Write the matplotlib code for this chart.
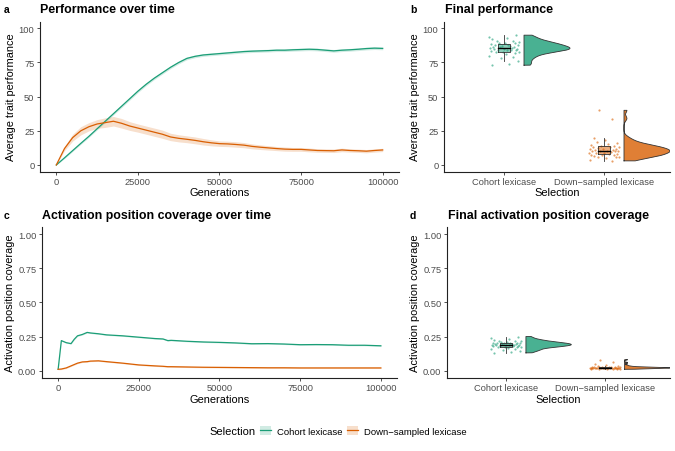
import numpy as np
import matplotlib.pyplot as plt
from matplotlib.patches import Patch
from matplotlib.lines import Line2D

plt.rcParams['font.family'] = ['Liberation Sans', 'DejaVu Sans']

W, H = 675, 452

green = '#1B9E77'
orange = '#D95F02'
groups = ['Cohort lexicase', 'Down\u2212sampled lexicase']

# panel a: performance over time
gens_a = [0, 2500, 5000, 7500, 10000, 12500, 15000, 17500, 20000, 22500, 25000,
          27500, 30000, 32500, 35000, 37500, 40000, 42500, 45000, 47500, 50000,
          52500, 55000, 57500, 60000, 62500, 65000, 67500, 70000, 72500, 75000,
          77500, 80000, 82500, 85000, 87500, 90000, 92500, 95000, 97500, 100000]
perf_cohort = [0, 5.2, 10.5, 15.8, 21, 26.5, 32, 37.5, 43, 48.5, 54,
               59, 63.5, 67.5, 71.5, 75, 78, 79.5, 80.5, 81, 81.5,
               82, 82.5, 83, 83.3, 83.5, 83.7, 84, 84, 84.3, 84.5,
               84.7, 84.5, 84, 83.5, 84, 84.3, 84.7, 85.2, 85.5, 85.3]
perf_cohort_se = [0, 0.5, 0.6, 0.7, 0.8, 0.8, 0.9, 0.9, 1, 1, 1,
                  1, 1, 1, 1, 1, 1, 1, 1, 1, 1,
                  1, 1, 1, 1, 1, 1, 1, 1, 1, 1,
                  1, 1, 1, 1, 1, 1, 1, 1, 1, 1]
perf_down = [0, 12, 20, 25, 28, 30, 31, 32, 30.5, 28.5, 27,
             25.5, 24, 22.5, 20.5, 19.5, 18.8, 18, 17, 16.2, 15.6,
             15.4, 15, 14.5, 13.6, 13, 12.5, 12, 11.6, 11.4, 11.4,
             11, 10.6, 10.5, 10.4, 11, 10.6, 10.4, 10.1, 10.6, 11]
perf_down_se = [0, 1.5, 2.5, 3, 3, 3.2, 3.5, 3.5, 3.5, 3.2, 3,
                3, 3, 3, 2.7, 2.6, 2.5, 2.5, 2.4, 2.2, 2,
                2, 2, 1.9, 1.8, 1.7, 1.6, 1.5, 1.5, 1.4, 1.4,
                1.4, 1.3, 1.3, 1.3, 1.3, 1.2, 1.2, 1.2, 1.2, 1.2]

# panel c: coverage over time
gens_c = [0, 1000, 2500, 4000, 5000, 6000, 7500, 9000, 10000, 12500, 15000,
          20000, 25000, 30000, 32500, 34000, 35000, 40000, 45000, 50000, 55000,
          60000, 65000, 70000, 75000, 80000, 85000, 90000, 95000, 100000]
cov_cohort = [0.01, 0.22, 0.205, 0.198, 0.23, 0.255, 0.265, 0.28, 0.276, 0.27, 0.262,
              0.255, 0.245, 0.235, 0.232, 0.22, 0.222, 0.215, 0.21, 0.207, 0.203,
              0.197, 0.198, 0.195, 0.19, 0.191, 0.19, 0.186, 0.186, 0.182]
cov_down = [0.01, 0.012, 0.02, 0.035, 0.045, 0.055, 0.064, 0.066, 0.07, 0.072, 0.066,
            0.055, 0.042, 0.035, 0.032, 0.029, 0.029, 0.027, 0.025, 0.024, 0.023,
            0.022, 0.021, 0.021, 0.02, 0.02, 0.02, 0.02, 0.02, 0.02]

# final values (one per replicate)
final_perf_cohort = [73, 74, 76, 78, 79, 80, 81, 82, 82.5, 83, 83, 83.5, 84, 84,
                     84.5, 84.5, 85, 85, 85, 85.5, 85.5, 86, 86, 86.5, 87, 87,
                     87.5, 88, 88, 88.5, 89, 89, 89.5, 90, 90.5, 91, 92, 93, 94, 95]
final_perf_down = [3, 4, 5, 5.5, 6, 6, 6.5, 7, 7, 7.5, 8, 8, 8.5, 9, 9, 9.5, 10,
                   10, 10, 10.5, 10.5, 11, 11, 11.5, 12, 12, 12.5, 13, 13, 13.5,
                   14, 14, 14.5, 15, 16, 17, 18, 20, 34, 40]
final_cov_cohort = [0.13, 0.14, 0.145, 0.15, 0.155, 0.16, 0.165, 0.17, 0.17, 0.175,
                    0.175, 0.178, 0.18, 0.18, 0.182, 0.185, 0.185, 0.187, 0.188, 0.19,
                    0.19, 0.192, 0.195, 0.195, 0.197, 0.2, 0.2, 0.2, 0.203, 0.205,
                    0.205, 0.21, 0.21, 0.215, 0.22, 0.22, 0.225, 0.23, 0.24, 0.25]
final_cov_down = [0.01, 0.012, 0.013, 0.014, 0.015, 0.015, 0.016, 0.016, 0.017, 0.017,
                  0.018, 0.018, 0.018, 0.019, 0.019, 0.02, 0.02, 0.02, 0.02, 0.021,
                  0.021, 0.022, 0.022, 0.022, 0.023, 0.023, 0.024, 0.024, 0.025, 0.025,
                  0.026, 0.027, 0.028, 0.03, 0.032, 0.035, 0.04, 0.05, 0.06, 0.08]
jitter_a = [-0.12, 0.05, 0.14, -0.03, 0.09, -0.15, 0.02, 0.11, -0.08, 0.15,
            -0.01, -0.13, 0.07, 0.12, -0.06, 0.03, -0.1, 0.13, 0.0, -0.14,
            0.08, -0.04, 0.1, -0.11, 0.06, -0.02, 0.14, -0.09, 0.04, -0.13,
            0.11, -0.05, 0.01, 0.15, -0.07, 0.09, -0.12, 0.03, -0.15, 0.12]
jitter_b = [0.08, -0.14, 0.02, 0.12, -0.06, 0.15, -0.1, -0.02, 0.1, -0.13,
            0.05, 0.13, -0.08, 0.0, -0.15, 0.07, 0.11, -0.04, -0.12, 0.14,
            0.03, -0.09, 0.09, -0.01, -0.14, 0.12, -0.06, 0.06, 0.15, -0.11,
            -0.03, 0.1, -0.13, 0.04, 0.13, -0.07, 0.01, -0.1, 0.08, -0.05]

TICK = 6.7
LAB = 7.9
TITLE = 8.9

fig = plt.figure(figsize=(W / 100, H / 100), dpi=100)


def make_ax(l, r, top, bot):
    return fig.add_axes([l / W, 1 - bot / H, (r - l) / W, (bot - top) / H])


def style(ax):
    for s in ['top', 'right']:
        ax.spines[s].set_visible(False)
    for s in ['left', 'bottom']:
        ax.spines[s].set_linewidth(0.8)
        ax.spines[s].set_color('#222222')
    ax.tick_params(length=2.5, width=0.6, labelsize=TICK, color='#333333',
                   labelcolor='#4D4D4D', pad=1.5)


def head(tag, title, x_title, x_tag, y):
    fig.text(x_title / W, 1 - y / H, title, fontsize=TITLE, fontweight='bold',
             va='center', ha='left')
    fig.text(x_tag / W, 1 - y / H, tag, fontsize=7.5, fontweight='bold',
             va='center', ha='left')


def kde(vals, grid):
    v = np.asarray(vals)
    n = len(v)
    iqr = np.subtract(*np.percentile(v, [75, 25]))
    bw = 0.9 * min(v.std(ddof=1), iqr / 1.34) * n ** -0.2
    d = np.exp(-0.5 * ((grid[:, None] - v[None, :]) / bw) ** 2).sum(axis=1)
    return d / d.max()


def raincloud(ax, pos, vals, jit, col):
    vals = np.asarray(vals)
    ax.scatter(pos + np.asarray(jit), vals, s=2.5, color=col, alpha=0.6,
               linewidths=0, zorder=3)
    q1, med, q3 = np.percentile(vals, [25, 50, 75])
    iqr = q3 - q1
    lo = vals[vals >= q1 - 1.5 * iqr].min()
    hi = vals[vals <= q3 + 1.5 * iqr].max()
    ax.plot([pos, pos], [lo, q1], color='#333333', lw=0.6, zorder=4)
    ax.plot([pos, pos], [q3, hi], color='#333333', lw=0.6, zorder=4)
    bw = 0.06
    ax.fill_between([pos - bw, pos + bw], q1, q3, facecolor=col, alpha=0.5,
                    zorder=4, linewidth=0)
    ax.plot([pos - bw, pos + bw, pos + bw, pos - bw, pos - bw],
            [q1, q1, q3, q3, q1], color='#333333', lw=0.6, zorder=5)
    ax.plot([pos - bw, pos + bw], [med, med], color='black', lw=1.0, zorder=5)
    grid = np.linspace(vals.min(), vals.max(), 300)
    w = kde(vals, grid) * 0.46
    x0 = pos + 0.2
    ax.fill_betweenx(grid, x0, x0 + w, facecolor=col, alpha=0.8, edgecolor='none',
                     zorder=2)
    ax.plot(np.r_[x0, x0 + w, x0, x0], np.r_[grid[0], grid, grid[-1], grid[0]],
            color='#333333', lw=0.6, zorder=3)


# ---- panel a
ax = make_ax(40, 399, 22.5, 172.8)
style(ax)
ga = np.array(gens_a)
for y, se, col in [(perf_cohort, perf_cohort_se, green), (perf_down, perf_down_se, orange)]:
    y = np.array(y)
    se = np.array(se)
    ax.fill_between(ga, y - se, y + se, color=col, alpha=0.2, linewidth=0)
    ax.plot(ga, y, color=col, lw=0.9)
ax.set_xlim(-5000, 105000)
ax.set_ylim(-5, 105)
ax.set_xticks([0, 25000, 50000, 75000, 100000])
ax.set_yticks([0, 25, 50, 75, 100])
ax.set_xlabel('Generations', fontsize=LAB)
ax.set_ylabel('Average trait performance', fontsize=LAB)
ax.xaxis.set_label_coords(0.5, -0.1)
ax.yaxis.set_label_coords(-0.068, 0.5)
head('a', 'Performance over time', 40, 4, 10)

# ---- panel b
ax = make_ax(444, 670, 22.5, 172.8)
style(ax)
raincloud(ax, 1, final_perf_cohort, jitter_a, green)
raincloud(ax, 2, final_perf_down, jitter_b, orange)
ax.set_xlim(0.4, 2.66)
ax.set_ylim(-5, 105)
ax.set_xticks([1, 2])
ax.set_xticklabels(groups)
ax.set_yticks([0, 25, 50, 75, 100])
ax.set_xlabel('Selection', fontsize=LAB)
ax.set_ylabel('Average trait performance', fontsize=LAB)
ax.xaxis.set_label_coords(0.5, -0.1)
ax.yaxis.set_label_coords(-0.108, 0.5)
head('b', 'Final performance', 445, 410, 10)

# ---- panel c
ax = make_ax(42, 397, 228.2, 378.5)
style(ax)
gc = np.array(gens_c)
for y, col in [(cov_cohort, green), (cov_down, orange)]:
    y = np.array(y)
    ax.fill_between(gc, y - 0.004, y + 0.004, color=col, alpha=0.2, linewidth=0)
    ax.plot(gc, y, color=col, lw=0.9)
ax.set_xlim(-5000, 105000)
ax.set_ylim(-0.05, 1.05)
ax.set_xticks([0, 25000, 50000, 75000, 100000])
ax.set_yticks([0, 0.25, 0.5, 0.75, 1.0])
ax.set_yticklabels(['0.00', '0.25', '0.50', '0.75', '1.00'])
ax.set_xlabel('Generations', fontsize=LAB)
ax.set_ylabel('Activation position coverage', fontsize=LAB)
ax.xaxis.set_label_coords(0.5, -0.11)
ax.yaxis.set_label_coords(-0.077, 0.5)
head('c', 'Activation position coverage over time', 42, 4, 216)

# ---- panel d
ax = make_ax(447, 670, 228.2, 378.5)
style(ax)
raincloud(ax, 1, final_cov_cohort, jitter_a, green)
raincloud(ax, 2, final_cov_down, jitter_b, orange)
ax.set_xlim(0.4, 2.66)
ax.set_ylim(-0.05, 1.05)
ax.set_xticks([1, 2])
ax.set_xticklabels(groups)
ax.set_yticks([0, 0.25, 0.5, 0.75, 1.0])
ax.set_yticklabels(['0.00', '0.25', '0.50', '0.75', '1.00'])
ax.set_xlabel('Selection', fontsize=LAB)
ax.set_ylabel('Activation position coverage', fontsize=LAB)
ax.xaxis.set_label_coords(0.5, -0.11)
ax.yaxis.set_label_coords(-0.122, 0.5)
head('d', 'Final activation position coverage', 448, 410, 216)

# ---- legend
handles = [(Patch(facecolor=c, alpha=0.2, edgecolor='none'), Line2D([], [], color=c, lw=0.9))
           for c in [green, orange]]
fig.text(209 / W, 1 - 432 / H, 'Selection', fontsize=8, va='center', ha='left')
fig.legend(handles, groups, loc='center left', bbox_to_anchor=(260 / W, 1 - 432 / H),
           ncol=2, frameon=False, fontsize=6.8, handlelength=1.15, handleheight=1.15,
           handletextpad=0.6, columnspacing=0.55, borderpad=0, borderaxespad=0)

fig.savefig('out.png', dpi=100)
